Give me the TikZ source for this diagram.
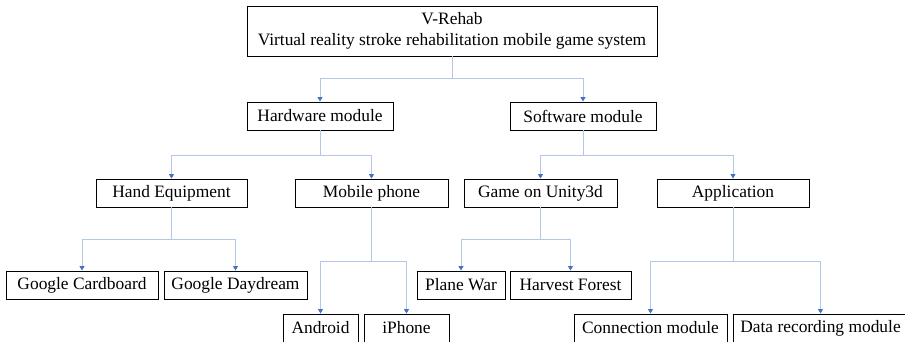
\documentclass[tikz,border=0pt]{standalone}
\usepackage{fontspec}
\setmainfont{Liberation Serif}
\usetikzlibrary{arrows.meta,positioning}

\definecolor{linkblue}{HTML}{B4C7E7}
\definecolor{tipblue}{HTML}{4472C4}

\tikzset{
  module/.style={draw=black,line width=0.9pt,minimum height=28pt,inner sep=0pt,
    font=\fontsize{17.4}{21}\selectfont,align=center},
  link/.style={draw=linkblue,line width=0.9pt,
    -{Triangle[length=4.5pt,width=5pt,color=tipblue]}}
}

\begin{document}
\begin{tikzpicture}[x=1pt,y=-1pt]
            \useasboundingbox (0,0) rectangle (905,342);
            \clip (0,0) rectangle (905,342);
            % root
            \node[module,minimum width=410pt,minimum height=50pt] (vrehab) at (452,31)
                {V-Rehab\\Virtual reality stroke rehabilitation mobile game system};
            % second level
            \node[module,minimum width=146pt] (hardware) at (320,116) {Hardware module};
            \node[module,minimum width=146pt] (software) at (583,116) {Software module};
            % third level
            \node[module,minimum width=151pt] (hand) at (171.5,193) {Hand Equipment};
            \node[module,minimum width=153pt] (mobile) at (371.5,193) {Mobile phone};
            \node[module,minimum width=153pt] (game) at (540.5,193) {Game on Unity3d};
            \node[module,minimum width=152pt] (app) at (733,193) {Application};
            % leaves
            \node[module,minimum width=152pt] (cardboard) at (82,285) {Google Cardboard};
            \node[module,minimum width=143pt] (daydream) at (235.5,285) {Google Daydream};
            \node[module,minimum width=88pt] (planewar) at (461,285) {Plane War};
            \node[module,minimum width=121pt] (harvest) at (570.5,285) {Harvest Forest};
            \node[module,minimum width=75pt] (android) at (320.5,328) {Android};
            \node[module,minimum width=85pt] (iphone) at (406.5,328) {iPhone};
            \node[module,minimum width=153pt] (connection) at (650.5,328) {Connection module};
            \node[module,minimum width=175pt] (datarec) at (820.5,328) {Data recording module};
            % connectors
            \draw[link] (vrehab.south) -- ++(0,22) -| (hardware.north);
            \draw[link] (vrehab.south) -- ++(0,22) -| (software.north);
            \draw[link] (hardware.south) -- ++(0,25) -| (hand.north);
            \draw[link] (hardware.south) -- ++(0,25) -| (mobile.north);
            \draw[link] (software.south) -- ++(0,25) -| (game.north);
            \draw[link] (software.south) -- ++(0,25) -| (app.north);
            \draw[link] (hand.south) -- ++(0,32) -| (cardboard.north);
            \draw[link] (hand.south) -- ++(0,32) -| (daydream.north);
            \draw[link] (mobile.south) -- ++(0,54) -| (android.north);
            \draw[link] (mobile.south) -- ++(0,54) -| (iphone.north);
            \draw[link] (game.south) -- ++(0,32) -| (planewar.north);
            \draw[link] (game.south) -- ++(0,32) -| (harvest.north);
            \draw[link] (app.south) -- ++(0,54) -| (connection.north);
            \draw[link] (app.south) -- ++(0,54) -| (datarec.north);
        \end{tikzpicture}
\end{document}
